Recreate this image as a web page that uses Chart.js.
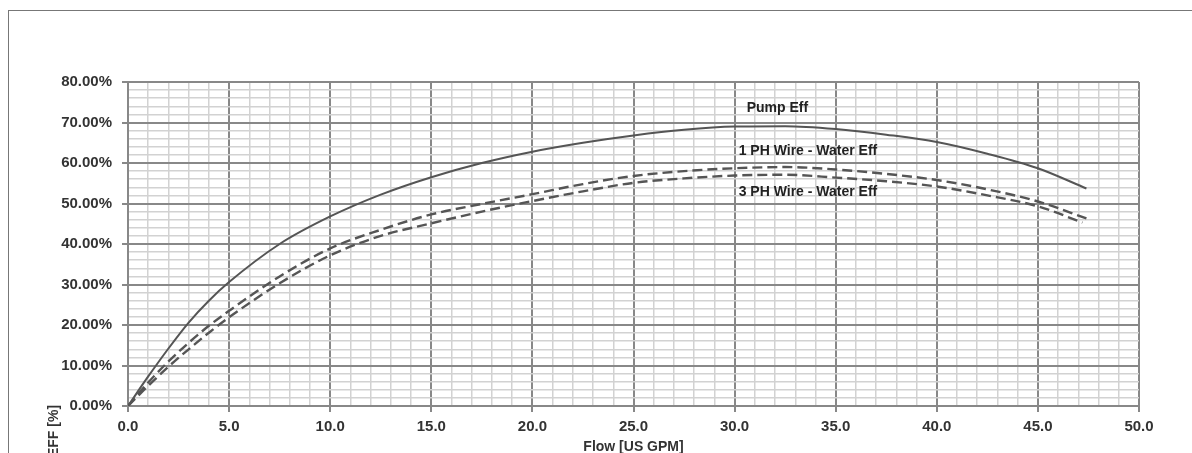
<!DOCTYPE html>
<html>
<head>
<meta charset="utf-8">
<script src="https://cdn.jsdelivr.net/npm/chart.js@4.4.1/dist/chart.umd.min.js"></script>
<style>
  html, body { margin: 0; padding: 0; background: #fff; }
  #wrap { position: relative; width: 1192px; height: 453px; overflow: hidden; background: #fff; }
  #frame { position: absolute; left: 8px; top: 10px; right: -2px; bottom: -2px; border-top: 1px solid #777; border-left: 1px solid #777; pointer-events: none; }
  canvas { position: absolute; left: 0; top: 0; }
</style>
</head>
<body>
<div id="wrap">
  <canvas id="c" width="1192" height="470"></canvas>
  <div id="frame"></div>
</div>
<script>
// ---- data ----
const flow      = [0, 1, 2, 3, 4, 5, 7.5, 10, 12.5, 15, 17.5, 20, 22.5, 25, 27.5, 30, 32.5, 35, 37.5, 40, 42.5, 45, 47.4];
const flow3Ph   = [0, 1, 2, 3, 4, 5, 7.5, 10, 12.5, 15, 17.5, 20, 22.5, 25, 27.5, 30, 32.5, 35, 37.5, 40, 42.5, 45, 47.2];
const pumpEff   = [0, 7.3, 14.2, 20.6, 26, 30.6, 40, 46.8, 52.2, 56.5, 60, 62.8, 65, 66.8, 68.2, 69, 69.1, 68.4, 67, 65.2, 62.3, 58.7, 53.7];
const wire1Eff  = [0, 5.8, 11, 15.6, 19.8, 23.5, 32, 38.9, 43.5, 47.3, 49.9, 52.3, 54.8, 56.8, 58, 58.7, 59, 58.4, 57.3, 55.8, 53.5, 50.5, 46.3];
const wire3Eff  = [0, 5, 9.7, 14, 18.1, 21.9, 30.3, 37.2, 42, 45.1, 48, 50.6, 53, 55.1, 56.2, 56.9, 57.1, 56.4, 55.5, 54.2, 52, 49.3, 45.3];
const seriesNames = ['Pump Eff', '1 PH Wire - Water Eff', '3 PH Wire - Water Eff'];
const labelX = [30.6, 30.2, 30.2];
const labelY = [73.5, 63.0, 52.9];
const xTitle = 'Flow [US GPM]';
const yTitle = 'EFF [%]';

const toPts = (xs, ys) => xs.map((x, i) => ({ x: x, y: ys[i] }));

const MAJOR = '#888888';
const MINOR = '#d2d2d2';
const LINE = '#555555';
const TXT = '#333333';
const FONT = 'Liberation Sans, Arial, sans-serif';

const labelsPlugin = {
  id: 'seriesLabels',
  afterDatasetsDraw(chart) {
    const ctx = chart.ctx;
    const xs = chart.scales.x, ys = chart.scales.y;
    ctx.save();
    ctx.font = 'bold 14px ' + FONT;
    ctx.fillStyle = '#222';
    ctx.textAlign = 'left';
    ctx.textBaseline = 'middle';
    seriesNames.forEach((t, i) => {
      ctx.fillText(t, xs.getPixelForValue(labelX[i]), ys.getPixelForValue(labelY[i]));
    });
    // y axis title, placed low as in the reference
    ctx.translate(54, 431);
    ctx.rotate(-Math.PI / 2);
    ctx.textAlign = 'center';
    ctx.fillStyle = TXT;
    ctx.fillText(yTitle, 0, 0);
    ctx.restore();
  }
};

new Chart(document.getElementById('c'), {
  type: 'line',
  data: {
    datasets: [
      { label: seriesNames[0], data: toPts(flow, pumpEff), borderColor: LINE, borderWidth: 2, cubicInterpolationMode: 'monotone' },
      { label: seriesNames[1], data: toPts(flow, wire1Eff), borderColor: LINE, borderWidth: 2.4, borderDash: [10, 5], cubicInterpolationMode: 'monotone' },
      { label: seriesNames[2], data: toPts(flow3Ph, wire3Eff), borderColor: LINE, borderWidth: 2.4, borderDash: [10, 5], cubicInterpolationMode: 'monotone' }
    ]
  },
  options: {
    responsive: false,
    animation: false,
    devicePixelRatio: 1,
    layout: { padding: { left: 0, top: 82, right: 53, bottom: 14 } },
    elements: { point: { radius: 0 } },
    plugins: { legend: { display: false }, tooltip: { enabled: false }, title: { display: false } },
    scales: {
      x: {
        type: 'linear', min: 0, max: 50,
        afterFit: s => { s.height = 50; },
        border: { display: true, color: MAJOR, width: 2 },
        grid: {
          color: c => (c.tick && c.tick.value % 5 === 0) ? MAJOR : MINOR,
          lineWidth: c => (c.tick && c.tick.value % 5 === 0) ? 2 : 1.5,
          tickColor: c => (c.tick && c.tick.value % 5 === 0) ? MAJOR : 'rgba(0,0,0,0)',
          tickLength: 6,
          drawTicks: true
        },
        ticks: {
          stepSize: 1, autoSkip: false, maxRotation: 0, padding: 6,
          color: TXT, font: { family: FONT, size: 15, weight: 'bold' },
          callback: v => (v % 5 === 0) ? v.toFixed(1) : ''
        },
        title: { display: true, text: xTitle, color: TXT, font: { family: FONT, size: 14, weight: 'bold' }, padding: { top: 0, bottom: 0 } }
      },
      y: {
        type: 'linear', min: 0, max: 80,
        afterFit: s => { s.width = 128; },
        border: { display: true, color: MAJOR, width: 2 },
        grid: {
          color: c => (c.tick && c.tick.value % 10 === 0) ? MAJOR : MINOR,
          lineWidth: c => (c.tick && c.tick.value % 10 === 0) ? 2 : 1.5,
          tickColor: c => (c.tick && c.tick.value % 10 === 0) ? MAJOR : 'rgba(0,0,0,0)',
          tickLength: 6,
          drawTicks: true
        },
        ticks: {
          stepSize: 2, autoSkip: false, padding: 10,
          color: TXT, font: { family: FONT, size: 15, weight: 'bold' },
          callback: v => (v % 10 === 0) ? v.toFixed(2) + '%' : ''
        }
      }
    }
  },
  plugins: [labelsPlugin]
});
</script>
</body>
</html>
